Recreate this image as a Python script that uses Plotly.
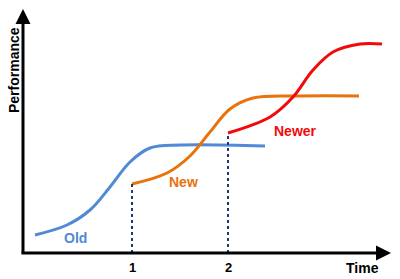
import plotly.graph_objects as go

# Data (time units ~ px, performance units ~ px from bottom)
old_t = [35, 67, 90, 110, 130, 150, 180, 265]
old_p = [44, 54, 69, 92, 117, 131, 134, 133]

new_t = [132, 167, 190, 210, 230, 253, 300, 359]
new_p = [95, 106, 123, 147, 170, 181, 183, 183]

newer_t = [228, 270, 293, 313, 333, 360, 382]
newer_p = [146, 162, 182, 209, 227, 235, 235]

tick_vals = [132, 228]
tick_text = ["1", "2"]

BLUE = "#4F8AD6"
ORANGE = "#E8720C"
RED = "#F20A0A"
NAVY = "#1F3A6E"
FONT = "Liberation Sans, Arial, sans-serif"

fig = go.Figure()
for t, p, c in [(old_t, old_p, BLUE), (new_t, new_p, ORANGE), (newer_t, newer_p, RED)]:
    fig.add_trace(go.Scatter(x=t, y=p, mode="lines",
                             line=dict(color=c, width=3, shape="spline", smoothing=1.0),
                             hoverinfo="skip", showlegend=False))

# dotted drop lines
for t, p in [(new_t[0], new_p[0]), (newer_t[0], newer_p[0])]:
    fig.add_trace(go.Scatter(x=[t, t], y=[26, p], mode="lines",
                             line=dict(color=NAVY, width=2, dash="dot"),
                             hoverinfo="skip", showlegend=False))

annotations = [
    # axes arrows
    dict(x=391, y=26, ax=20, ay=26, xref="x", yref="y", axref="x", ayref="y",
         showarrow=True, arrowhead=2, arrowsize=1, arrowwidth=3, arrowcolor="black", text=""),
    dict(x=23, y=270, ax=23, ay=24, xref="x", yref="y", axref="x", ayref="y",
         showarrow=True, arrowhead=2, arrowsize=1, arrowwidth=3, arrowcolor="black", text=""),
    dict(x=362, y=11, text="<b>Time</b>", showarrow=False, xref="x", yref="y",
         font=dict(size=14, color="black", family=FONT)),
    dict(x=14, y=209, text="<b>Performance</b>", textangle=-90, showarrow=False,
         xref="x", yref="y", font=dict(size=14, color="black", family=FONT)),
    dict(x=75, y=41, text="<b>Old</b>", showarrow=False, xref="x", yref="y",
         font=dict(size=14, color=BLUE, family=FONT)),
    dict(x=183, y=97, text="<b>New</b>", showarrow=False, xref="x", yref="y",
         font=dict(size=14, color=ORANGE, family=FONT)),
    dict(x=295, y=148, text="<b>Newer</b>", showarrow=False, xref="x", yref="y",
         font=dict(size=14, color=RED, family=FONT)),
]
for v, s in zip(tick_vals, tick_text):
    annotations.append(dict(x=v, y=12, text="<b>%s</b>" % s, showarrow=False, xref="x", yref="y",
                            font=dict(size=13, color="black", family=FONT)))

fig.update_layout(
    width=400, height=279,
    margin=dict(l=0, r=0, t=0, b=0),
    paper_bgcolor="white", plot_bgcolor="white",
    xaxis=dict(range=[0, 400], visible=False, fixedrange=True),
    yaxis=dict(range=[0, 279], visible=False, fixedrange=True),
    annotations=annotations,
)

fig.write_html("out.html")
